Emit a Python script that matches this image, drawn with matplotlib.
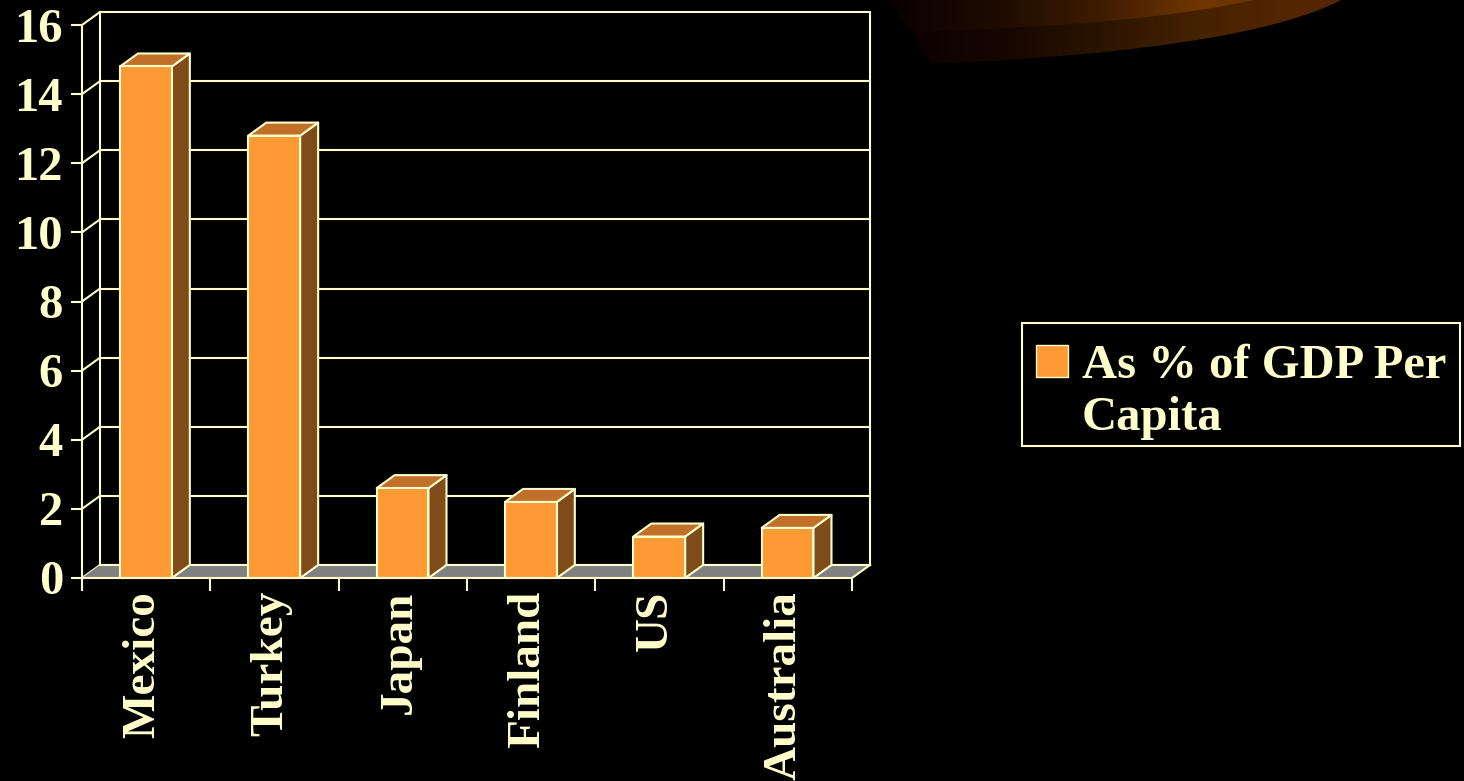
import numpy as np
import matplotlib
matplotlib.use('Agg')
import matplotlib.pyplot as plt
from matplotlib.patches import Polygon, Rectangle

# data
countries = ['Mexico', 'Turkey', 'Japan', 'Finland', 'US', 'Australia']
values = [14.8, 12.8, 2.6, 2.2, 1.2, 1.45]
yticks = [0, 2, 4, 6, 8, 10, 12, 14, 16]
series_name = 'As % of GDP Per'
series_name2 = 'Capita'

cream = '#FFFFCC'
front_c = '#FF9933'
top_c = '#C07028'
side_c = '#7F4C19'
floor_c = '#808080'

# pixel -> data helpers (axes fills the whole figure)
PX_X = 128.33   # pixels per category
PX_Y = 34.5625  # pixels per unit


def X(px):
    return (px - 82) / PX_X


def Y(py):
    return (578 - py) / PX_Y


dx = 18 / PX_X
dy = 13 / PX_Y
n = len(countries)
ymax = yticks[-1]

fig = plt.figure(figsize=(14.64, 7.81), dpi=100, facecolor='black')
ax = fig.add_axes([0, 0, 1, 1])
ax.set_xlim(X(0), X(1464))
ax.set_ylim(Y(781), Y(0))
ax.axis('off')
ax.set_facecolor('black')

# decorative swoosh top right
def bezier(p0, p1, p2, num=60):
    t = np.linspace(0, 1, num)[:, None]
    p0, p1, p2 = np.array(p0), np.array(p1), np.array(p2)
    return (1 - t) ** 2 * p0 + 2 * (1 - t) * t * p1 + t ** 2 * p2

lower = bezier((930, 64), (1250, 50), (1345, -2))
upper = bezier((913, 32), (1150, 25), (1262, -2))

cols = np.arange(880, 1464)
def grad(anchors_x, anchors_rgb):
    arr = np.array(anchors_rgb, dtype=float) / 255
    img = np.stack([np.interp(cols, anchors_x, arr[:, k]) for k in range(3)], axis=-1)
    return np.repeat(img[None, :, :], 2, axis=0)

img_low = grad([880, 930, 1000, 1100, 1200, 1300, 1464],
               [(5, 0, 0), (14, 2, 0), (22, 6, 0), (42, 20, 0), (70, 34, 0), (85, 38, 0), (80, 35, 0)])
img_up = grad([880, 920, 1000, 1100, 1200, 1300, 1464],
              [(5, 0, 0), (16, 3, 0), (30, 12, 0), (62, 28, 0), (112, 54, 0), (100, 48, 0), (90, 40, 0)])

pts_low = [(X(px), Y(py)) for px, py in lower] + [(X(1464), Y(-2)), (X(890), Y(-2)), (X(913), Y(32))]
pts_up = [(X(px), Y(py)) for px, py in upper] + [(X(888), Y(-2)), (X(900), Y(18))]
for img, pts in [(img_low, pts_low), (img_up, pts_up)]:
    clip = Polygon(pts, closed=True, facecolor='none', edgecolor='none')
    ax.add_patch(clip)
    im = ax.imshow(img, extent=[X(880), X(1464), Y(100), Y(-2)], aspect='auto',
                   interpolation='bilinear', zorder=0)
    im.set_clip_path(clip)

# back wall gridlines and side wall lines
for v in yticks:
    ax.plot([dx, n + dx], [v + dy, v + dy], color=cream, lw=1.5, zorder=1)
    ax.plot([0, dx], [v, v + dy], color=cream, lw=1.5, zorder=1)
ax.plot([dx, dx], [dy, ymax + dy], color=cream, lw=1.5, zorder=1)
ax.plot([n + dx, n + dx], [dy, ymax + dy], color=cream, lw=1.5, zorder=1)

# floor
ax.add_patch(Polygon([(0, 0), (n, 0), (n + dx, dy), (dx, dy)], closed=True,
                     facecolor=floor_c, edgecolor='none', zorder=2))
ax.plot([dx, n + dx], [dy, dy], color=cream, lw=1.5, zorder=2)
ax.plot([n, n + dx], [0, dy], color=cream, lw=1.5, zorder=2)

# bars
for i, v in enumerate(values):
    x0 = i + 0.296
    x1 = i + 0.70
    ax.add_patch(Polygon([(x1, 0), (x1 + dx, dy), (x1 + dx, v + dy), (x1, v)], closed=True,
                         facecolor=side_c, edgecolor=cream, lw=1.5, zorder=3, joinstyle='round'))
    ax.add_patch(Polygon([(x0, v), (x1, v), (x1 + dx, v + dy), (x0 + dx, v + dy)], closed=True,
                         facecolor=top_c, edgecolor=cream, lw=1.5, zorder=3, joinstyle='round'))
    ax.add_patch(Polygon([(x0, 0), (x1, 0), (x1, v), (x0, v)], closed=True,
                         facecolor=front_c, edgecolor=cream, lw=1.5, zorder=4, joinstyle='round'))

# front axes
ax.plot([0, 0], [0, ymax], color=cream, lw=1.5, zorder=5)
ax.plot([0, n], [0, 0], color=cream, lw=1.5, zorder=5)
for v in yticks:
    ax.plot([X(72), 0], [v, v], color=cream, lw=1.5, zorder=5)
    ax.text(X(63), v - 16.5 / PX_Y, str(v), ha='right', va='baseline', color=cream,
            fontsize=35, fontweight='bold', family='Liberation Serif')
for i in range(n + 1):
    ax.plot([i, i], [0, Y(590)], color=cream, lw=1.5, zorder=5)

for i, name in enumerate(countries):
    ax.text(i + 0.475, Y(591), name, rotation=90, ha='center', va='top', color=cream,
            fontsize=34, fontweight='bold', family='Liberation Serif')

# legend
ax.add_patch(Rectangle((X(1022), Y(446)), X(1460) - X(1022), Y(323) - Y(446),
                       facecolor='black', edgecolor=cream, lw=1.5, zorder=5))
ax.add_patch(Rectangle((X(1036), Y(377)), X(1068) - X(1036), Y(345) - Y(377),
                       facecolor=front_c, edgecolor=cream, lw=1, zorder=6))
ax.text(X(1082), Y(378), series_name, ha='left', va='baseline', color=cream,
        fontsize=35, fontweight='bold', family='Liberation Serif', zorder=6)
ax.text(X(1082), Y(430), series_name2, ha='left', va='baseline', color=cream,
        fontsize=35, fontweight='bold', family='Liberation Serif', zorder=6)

fig.savefig('out.png', dpi=100, facecolor='black')
